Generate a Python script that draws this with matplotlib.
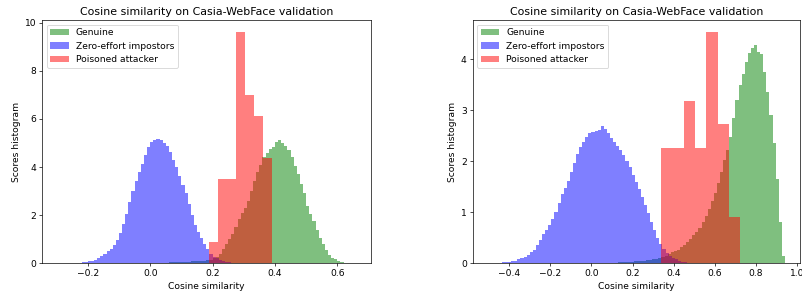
import numpy as np
import matplotlib
matplotlib.use("Agg")
import matplotlib.pyplot as plt

# ---- left panel: bin heights (density) ----
left_blue_start, left_blue_step = -0.23, 0.01
left_blue = [0.02, 0.04, 0.06, 0.08, 0.10, 0.15, 0.22, 0.30, 0.40, 0.50,
             0.60, 0.78, 0.98, 1.25, 1.62, 2.05, 2.55, 3.00, 3.42, 3.78,
             4.12, 4.50, 4.82, 5.05, 5.12, 5.15, 5.10, 5.00, 4.88, 4.62,
             4.30, 3.98, 3.62, 3.25, 2.90, 2.45, 2.00, 1.60, 1.30, 1.05,
             0.80, 0.58, 0.40, 0.28, 0.20, 0.14, 0.10, 0.07, 0.05, 0.03,
             0.02, 0.01, 0.01]

left_green_start, left_green_step = 0.0, 0.01
left_green = [0.01, 0.01, 0.02, 0.02, 0.03, 0.03, 0.04, 0.04, 0.05, 0.05,
              0.06, 0.06, 0.07, 0.08, 0.08, 0.09, 0.10, 0.11, 0.12, 0.15,
              0.20, 0.28, 0.40, 0.58, 0.80, 1.00, 1.22, 1.52, 1.85, 2.10,
              2.30, 2.60, 3.00, 3.40, 3.80, 4.10, 4.40, 4.60, 4.75, 4.85,
              5.05, 5.10, 5.00, 4.88, 4.72, 4.40, 4.05, 3.70, 3.30, 2.90,
              2.40, 2.05, 1.75, 1.40, 1.05, 0.80, 0.55, 0.36, 0.24, 0.16,
              0.09, 0.05, 0.03, 0.01]

left_red_edges = [0.189, 0.2176, 0.2461, 0.2747, 0.3033, 0.3319, 0.3604, 0.389]
left_red = [0.875, 3.5, 3.5, 9.625, 7.0, 6.125, 4.375]

# ---- right panel ----
right_blue_start, right_blue_step = -0.45, 0.015
right_blue = [0.01, 0.02, 0.03, 0.03, 0.04, 0.05, 0.08, 0.10, 0.13, 0.17,
              0.22, 0.27, 0.36, 0.46, 0.57, 0.66, 0.76, 0.86, 1.00, 1.18,
              1.36, 1.48, 1.61, 1.80, 1.96, 2.15, 2.28, 2.37, 2.47, 2.55,
              2.58, 2.60, 2.61, 2.70, 2.64, 2.55, 2.45, 2.38, 2.30, 2.22,
              2.12, 2.00, 1.88, 1.74, 1.60, 1.46, 1.30, 1.15, 0.98, 0.80,
              0.65, 0.50, 0.38, 0.28, 0.20, 0.15, 0.11, 0.08, 0.05, 0.03,
              0.02, 0.01]

right_green_start, right_green_step = 0.10, 0.015
right_green = [0.01, 0.01, 0.02, 0.02, 0.02, 0.03, 0.03, 0.04, 0.04, 0.05,
               0.05, 0.06, 0.07, 0.08, 0.09, 0.10, 0.12, 0.15, 0.18, 0.22,
               0.24, 0.27, 0.31, 0.36, 0.42, 0.48, 0.55, 0.62, 0.70, 0.80,
               0.92, 1.06, 1.22, 1.38, 1.58, 1.80, 2.02, 2.22, 2.48, 2.85,
               3.20, 3.50, 3.72, 3.95, 4.12, 4.22, 4.28, 4.15, 4.10, 3.75,
               3.35, 2.90, 2.35, 1.65, 0.80, 0.15]

right_red_edges = [0.338, 0.393, 0.448, 0.503, 0.558, 0.613, 0.669, 0.724]
right_red = [2.27, 2.27, 3.18, 2.27, 4.545, 2.73, 0.91]

plt.rcParams['font.size'] = 10.6
plt.rcParams['axes.titlesize'] = 12.8


def edges_for(start, step, values):
    return start + step * np.arange(len(values) + 1)


def draw_panel(ax, green, green_edges, blue, blue_edges, red, red_edges, xlim):
    ax.stairs(green, green_edges, fill=True, color='g', alpha=0.5, label='Genuine')
    ax.stairs(blue, blue_edges, fill=True, color='b', alpha=0.5, label='Zero-effort impostors')
    ax.stairs(red, red_edges, fill=True, color='r', alpha=0.5, label='Poisoned attacker')
    ax.set_xlim(xlim)
    ax.set_ylim(0, max(max(green), max(blue), max(red)) * 1.05)
    ax.set_title('Cosine similarity on Casia-WebFace validation')
    ax.set_xlabel('Cosine similarity')
    ax.set_ylabel('Scores histogram')
    ax.legend(loc='upper left')


fig = plt.figure(figsize=(13.0, 4.814), dpi=61.7)
ax1 = fig.add_axes([0.0527, 0.1135, 0.4099, 0.8192])
ax2 = fig.add_axes([0.5894, 0.1135, 0.4081, 0.8192])

draw_panel(ax1,
           left_green, edges_for(left_green_start, left_green_step, left_green),
           left_blue, edges_for(left_blue_start, left_blue_step, left_blue),
           left_red, left_red_edges, (-0.346, 0.708))
draw_panel(ax2,
           right_green, edges_for(right_green_start, right_green_step, right_green),
           right_blue, edges_for(right_blue_start, right_blue_step, right_blue),
           right_red, right_red_edges, (-0.577, 1.014))

fig.savefig('out.png', dpi=61.7)
